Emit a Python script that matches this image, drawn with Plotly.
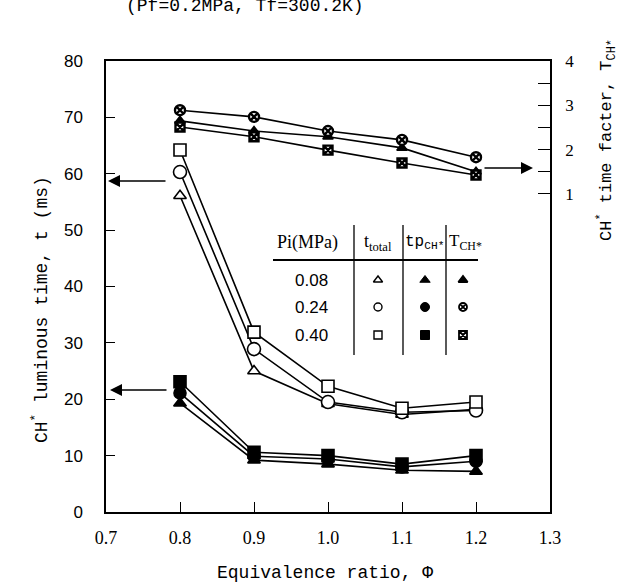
import plotly.graph_objects as go

# ---------------- data ----------------
phi = [0.8, 0.9, 1.0, 1.1, 1.2]
pressures = ["0.08", "0.24", "0.40"]
t_total_008 = [56.1, 25.0, 19.2, 17.3, 18.2]
t_total_024 = [60.3, 28.9, 19.5, 17.7, 18.0]
t_total_040 = [64.2, 31.9, 22.3, 18.4, 19.5]
tp_008 = [19.3, 9.2, 8.5, 7.4, 7.2]
tp_024 = [21.1, 9.9, 9.4, 8.0, 9.0]
tp_040 = [23.1, 10.6, 10.0, 8.5, 10.0]
T_008 = [2.65, 2.42, 2.29, 2.04, 1.50]
T_024 = [2.89, 2.74, 2.42, 2.22, 1.83]
T_040 = [2.51, 2.29, 1.99, 1.70, 1.43]
x_ticks = [0.7, 0.8, 0.9, 1.0, 1.1, 1.2, 1.3]
x_ticklabels = ["0.7", "0.8", "0.9", "1.0", "1.1", "1.2", "1.3"]
y_ticks = [0, 10, 20, 30, 40, 50, 60, 70, 80]
y2_ticks = [1, 1.5, 2, 2.5, 3, 3.5, 4]
y2_ticklabels = ["1", "", "2", "", "3", "", "4"]

MONO = "Liberation Mono"
SERIF = "Liberation Serif"
SANS = "Liberation Sans"
BLACK = "black"

fig = go.Figure()

def add(x, y, sym, size, lw=1.6, yaxis="y", mlw=1.6, fill="white"):
    fig.add_trace(go.Scatter(
        x=x, y=y, mode="lines+markers", yaxis=yaxis,
        line=dict(color=BLACK, width=lw),
        marker=dict(symbol=sym, size=size, color=fill,
                    line=dict(color=BLACK, width=mlw)),
        showlegend=False, cliponaxis=False))

# t_total (open)
add(phi, t_total_008, "triangle-up", 11)
add(phi, t_total_024, "circle", 13)
add(phi, t_total_040, "square", 12)
# tp_CH* (filled)
add(phi, tp_008, "triangle-up", 11, fill=BLACK)
add(phi, tp_024, "circle", 12, fill=BLACK)
add(phi, tp_040, "square", 12, fill=BLACK)
# T_CH* (right axis)
add(phi, T_008, "triangle-up", 9, yaxis="y2", fill=BLACK)
add(phi, T_024, "circle-x", 10, yaxis="y2", fill="white", mlw=2.4)
add(phi, T_040, "square-x", 9, yaxis="y2", fill="white", mlw=2.4)

# ---------------- legend table ----------------
def dx(px):
    return 0.7 + (px - 106) / 740.0

def dy(py):
    return (512 - py) / 5.6375

def px_x(px):
    return (px - 106) / 444.0

def px_y(py):
    return (512 - py) / 451.0

for vx in (354, 403, 446):
    fig.add_shape(type="line", x0=dx(vx), x1=dx(vx), y0=dy(225), y1=dy(355),
                  xref="x", yref="y", line=dict(color=BLACK, width=1.3))
fig.add_shape(type="line", x0=dx(273), x1=dx(478), y0=dy(260), y1=dy(260),
              xref="x", yref="y", line=dict(color=BLACK, width=1.8))

hdr_y = dy(242)
fig.add_annotation(x=dx(307), y=hdr_y, text="Pi(MPa)", showarrow=False,
                   font=dict(family=SERIF, size=18, color=BLACK))
fig.add_annotation(x=dx(378), y=hdr_y, text="t<sub>total</sub>", showarrow=False,
                   font=dict(family=SERIF, size=18, color=BLACK))
fig.add_annotation(x=dx(424), y=hdr_y, text="tp<sub>CH*</sub>", showarrow=False,
                   font=dict(family=MONO, size=16, color=BLACK))
fig.add_annotation(x=dx(465), y=hdr_y, text="T<sub>CH*</sub>", showarrow=False,
                   font=dict(family=SERIF, size=17, color=BLACK))

row_py = [280, 307, 335]
syms = ["triangle-up", "circle", "square"]
syms_T = ["triangle-up", "circle-x", "square-x"]
for lbl, py, s, sT in zip(pressures, row_py, syms, syms_T):
    fig.add_annotation(x=dx(311), y=dy(py), text=lbl, showarrow=False,
                       font=dict(family=SANS, size=17, color=BLACK))
    fig.add_trace(go.Scatter(x=[dx(378)], y=[dy(py)], mode="markers",
                             marker=dict(symbol=s, size=8, color="white",
                                         line=dict(color=BLACK, width=1.4)),
                             showlegend=False))
    fig.add_trace(go.Scatter(x=[dx(425)], y=[dy(py)], mode="markers",
                             marker=dict(symbol=s, size=9, color=BLACK,
                                         line=dict(color=BLACK, width=1)),
                             showlegend=False))
    fig.add_trace(go.Scatter(x=[dx(463)], y=[dy(py)], mode="markers",
                             marker=dict(symbol=sT, size=8,
                                         color="white" if sT != "triangle-up" else BLACK,
                                         line=dict(color=BLACK, width=1.8)),
                             showlegend=False))

# ---------------- arrows ----------------
for (x0p, x1p, yp) in [(167, 108, 181), (168, 110, 390)]:
    fig.add_annotation(x=dx(x1p), y=dy(yp), ax=dx(x0p), ay=dy(yp),
                       xref="x", yref="y", axref="x", ayref="y",
                       showarrow=True, arrowhead=2, arrowsize=1.6,
                       arrowwidth=1.5, arrowcolor=BLACK, text="")
fig.add_annotation(x=dx(533), y=dy(168), ax=dx(483), ay=dy(168),
                   xref="x", yref="y", axref="x", ayref="y",
                   showarrow=True, arrowhead=2, arrowsize=1.6,
                   arrowwidth=1.5, arrowcolor=BLACK, text="")

# ---------------- titles ----------------
def title(xp, yp, text, size, angle=0):
    fig.add_annotation(xref="paper", yref="paper", x=px_x(xp), y=px_y(yp),
                       xanchor="center", yanchor="middle",
                       text=text, showarrow=False, textangle=angle,
                       font=dict(family=MONO, size=size, color=BLACK))

title(325, 573, "Equivalence ratio, Φ", 18)
title(40, 310, "CH<sup>*</sup> luminous time, t (ms)", 18, -90)
title(606, 140, "CH<sup>*</sup> time facter, T<sub>CH*</sub>", 17, -90)
title(245, 6, "(Pf=0.2MPa, Tf=300.2K)", 18)

fig.update_layout(
    width=622, height=588,
    margin=dict(l=106, r=72, t=61, b=76),
    paper_bgcolor="white", plot_bgcolor="white",
    xaxis=dict(range=[0.7, 1.3], tickvals=x_ticks, ticktext=x_ticklabels,
               ticks="inside", ticklen=10, tickwidth=1.3, tickcolor=BLACK,
               showline=True, linecolor=BLACK, linewidth=1.5, mirror=True,
               showgrid=False, zeroline=False, ticklabelstandoff=9,
               tickfont=dict(family=SERIF, size=18, color=BLACK)),
    yaxis=dict(range=[0, 80], tickvals=y_ticks,
               ticks="inside", ticklen=9, tickwidth=1.3, tickcolor=BLACK,
               showline=True, linecolor=BLACK, linewidth=1.5, mirror=True,
               showgrid=False, zeroline=False, ticklabelstandoff=18,
               tickfont=dict(family=SANS, size=17, color=BLACK)),
    yaxis2=dict(range=[4 - 451 / 44.33, 4], overlaying="y", side="right",
                tickvals=y2_ticks, ticktext=y2_ticklabels,
                ticks="inside", ticklen=12, tickwidth=1.3, tickcolor=BLACK,
                showline=True, linecolor=BLACK, linewidth=1.5,
                showgrid=False, zeroline=False, ticklabelstandoff=10,
                tickfont=dict(family=SERIF, size=17, color=BLACK)),
    showlegend=False,
)

fig.write_html("out.html")
